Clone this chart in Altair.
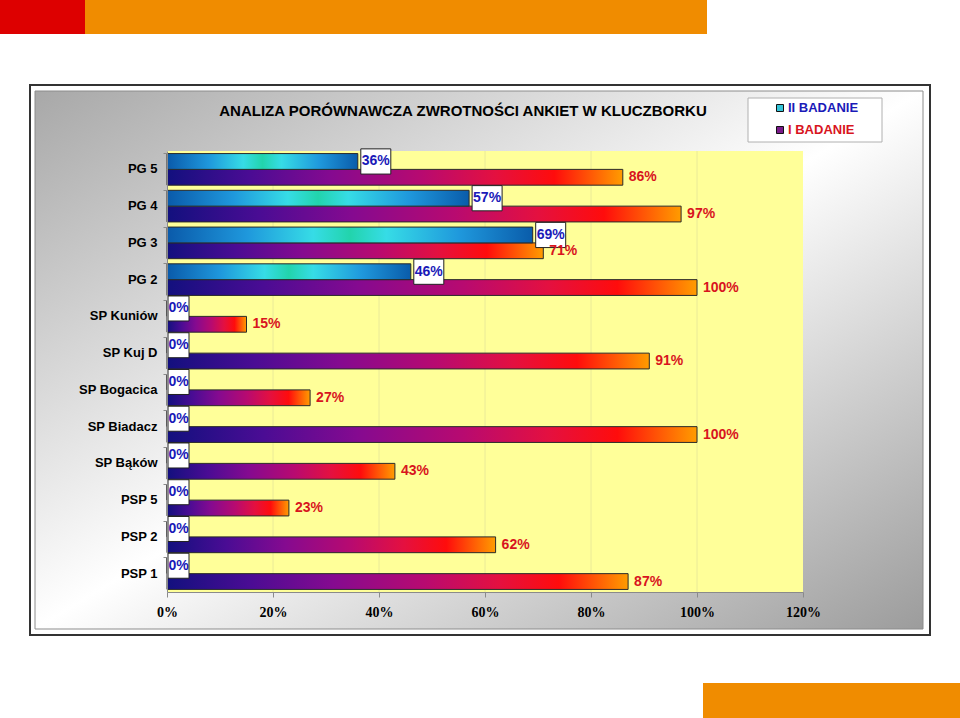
import altair as alt
import pandas as pd

# ---------------- data ----------------
categories = ["PG 5", "PG 4", "PG 3", "PG 2", "SP Kuniów", "SP Kuj D", "SP Bogacica",
              "SP Biadacz", "SP Bąków", "PSP 5", "PSP 2", "PSP 1"]
ii_values = [36, 57, 69, 46, 0, 0, 0, 0, 0, 0, 0, 0]       # II BADANIE
i_values = [86, 97, 71, 100, 15, 91, 27, 100, 43, 23, 62, 87]  # I BADANIE
series = ["II BADANIE", "I BADANIE"]
x_ticks = [0, 20, 40, 60, 80, 100, 120]
grid_ticks = [20, 40, 60, 80, 100]
title_text = "ANALIZA PORÓWNAWCZA ZWROTNOŚCI ANKIET W KLUCZBORKU"

rows = []
for c, a, b in zip(categories, ii_values, i_values):
    rows.append({"cat": c, "series": series[0], "value": a / 100, "label": f"{a}%"})
    rows.append({"cat": c, "series": series[1], "value": b / 100, "label": f"{b}%"})
df = pd.DataFrame(rows)
grid_df = pd.DataFrame({"value": [t / 100 for t in grid_ticks]})

# ---------------- layout ----------------
W, H = 636, 441
L, T = 167, 151
FONT = "Liberation Sans"
one = alt.Data(values=[{"d": 1}])

xscale = alt.Scale(domain=[0, 1.2], nice=False, zero=True)
yscale = alt.Scale(domain=categories, paddingInner=0.14, paddingOuter=0.07)
oscale = alt.Scale(domain=series, paddingInner=0, paddingOuter=0)

xaxis = alt.Axis(values=[t / 100 for t in x_ticks], format=".0%", title=None, grid=False,
                 labelFont="Liberation Serif", labelFontWeight="bold", labelFontSize=14,
                 labelColor="black", tickColor="#8a8a8a", tickSize=5, domainColor="#8a8a8a",
                 labelPadding=8, zindex=1, labelFlush=False)
yaxis = alt.Axis(title=None, grid=False, labelFont=FONT, labelFontWeight="bold", labelFontSize=13,
                 labelColor="black", tickColor="#8a8a8a", tickSize=4, domainColor="#8a8a8a",
                 bandPosition=0, labelPadding=6, zindex=1)

X = alt.X("value:Q", scale=xscale, axis=xaxis)
Y = alt.Y("cat:N", sort=categories, scale=yscale, axis=yaxis)
YO = alt.YOffset("series:N", sort=series, scale=oscale)


def rect(x, x2, y, y2, **kw):
    return alt.Chart(one).mark_rect(**kw).encode(
        x=alt.value(x - L), x2=alt.value(x2 - L), y=alt.value(y - T), y2=alt.value(y2 - T))


# ---------------- decorations ----------------
red_sq = rect(0, 85, 0, 34, fill="#dd0000")
orange_top = rect(85, 707, 0, 34, fill="#f08c00")
orange_bot = rect(703, 960, 683, 718, fill="#f08c00")
frame = rect(30, 930, 85, 635, fill="white", stroke="#333333", strokeWidth=2)
gray_grad = alt.Gradient(gradient="linear", x1=0, y1=0, x2=1, y2=1,
                         stops=[alt.GradientStop(color="#a8a8a8", offset=0),
                                alt.GradientStop(color="#ffffff", offset=0.5),
                                alt.GradientStop(color="#9c9c9c", offset=1)])
inner = rect(35, 923, 91, 629, fill=gray_grad, stroke="#8c8c8c", strokeWidth=1)
plot_bg = rect(167, 803, 151, 592, fill="#ffff99")

legend_box = rect(748, 882, 98, 142, fill="white", stroke="#b0b0b0", strokeWidth=1)
leg_sq1 = alt.Chart(one).mark_square(size=49, fill="#34c4d8", stroke="#101010", strokeWidth=1, opacity=1).encode(
    x=alt.value(780 - L), y=alt.value(108 - T))
leg_sq2 = alt.Chart(one).mark_square(size=49, fill="#7a1a8a", stroke="#101010", strokeWidth=1, opacity=1).encode(
    x=alt.value(780 - L), y=alt.value(130 - T))
leg_t1 = alt.Chart(one).mark_text(align="left", baseline="middle", font=FONT, fontSize=13, fontWeight="bold",
                                  color="#1a1ab8").encode(
    x=alt.value(788 - L), y=alt.value(108 - T), text=alt.value(series[0]))
leg_t2 = alt.Chart(one).mark_text(align="left", baseline="middle", font=FONT, fontSize=13, fontWeight="bold",
                                  color="#d8141e").encode(
    x=alt.value(788 - L), y=alt.value(130 - T), text=alt.value(series[1]))

title = alt.Chart(one).mark_text(align="center", baseline="middle", font=FONT, fontSize=15,
                                 fontWeight="bold", color="black").encode(
    x=alt.value(463 - L), y=alt.value(111 - T), text=alt.value(title_text))

grid = alt.Chart(grid_df).mark_rule(color="#eaea98", strokeWidth=1).encode(x=X)

# ---------------- bars ----------------
blue_grad = alt.Gradient(gradient="linear", x1=0, y1=0, x2=1, y2=0, stops=[
    alt.GradientStop(color="#0a5aaa", offset=0),
    alt.GradientStop(color="#1f98dc", offset=0.22),
    alt.GradientStop(color="#36dce6", offset=0.4),
    alt.GradientStop(color="#22d4ac", offset=0.5),
    alt.GradientStop(color="#36dce6", offset=0.6),
    alt.GradientStop(color="#1f98dc", offset=0.8),
    alt.GradientStop(color="#0a5caa", offset=1)])
red_grad = alt.Gradient(gradient="linear", x1=0, y1=0, x2=1, y2=0, stops=[
    alt.GradientStop(color="#12107e", offset=0),
    alt.GradientStop(color="#4a0c94", offset=0.18),
    alt.GradientStop(color="#850a90", offset=0.36),
    alt.GradientStop(color="#b80a70", offset=0.56),
    alt.GradientStop(color="#e41040", offset=0.72),
    alt.GradientStop(color="#ff0c0c", offset=0.85),
    alt.GradientStop(color="#ff9c00", offset=1)])

base = alt.Chart(df)
red_bars = base.transform_filter(alt.datum.series == series[1]).mark_bar(
    fill=red_grad, stroke="#2a2a2a", strokeWidth=1).encode(x=X, y=Y, yOffset=YO)
blue_bars = base.transform_filter(alt.datum.series == series[0]).mark_bar(
    fill=blue_grad, stroke="#2a2a2a", strokeWidth=1).encode(x=X, y=Y, yOffset=YO)

wide_shape = "M-1,-0.84L1,-0.84L1,0.84L-1,0.84Z"
narrow_shape = "M-0.84,-1L0.84,-1L0.84,1L-0.84,1Z"

blue_nz = base.transform_filter((alt.datum.series == series[0]) & (alt.datum.value > 0))
blue_z = base.transform_filter((alt.datum.series == series[0]) & (alt.datum.value == 0))

box_nz = blue_nz.mark_point(shape=wide_shape, size=900, filled=True, fill="white", stroke="#202020",
                            strokeWidth=1, opacity=1, xOffset=18, yOffset=1).encode(x=X, y=Y, yOffset=YO)
box_z = blue_z.mark_point(shape=narrow_shape, size=625, filled=True, fill="white", stroke="#202020",
                          strokeWidth=1, opacity=1, xOffset=11.5, yOffset=2).encode(x=X, y=Y, yOffset=YO)
txt_nz = blue_nz.mark_text(align="center", baseline="middle", font=FONT, fontSize=14, fontWeight="bold",
                           color="#1a1ab8", xOffset=18, yOffset=1).encode(x=X, y=Y, yOffset=YO, text="label:N")
txt_z = blue_z.mark_text(align="center", baseline="middle", font=FONT, fontSize=14, fontWeight="bold",
                         color="#1a1ab8", xOffset=11.5, yOffset=1).encode(x=X, y=Y, yOffset=YO, text="label:N")
red_txt = base.transform_filter(alt.datum.series == series[1]).mark_text(
    align="left", baseline="middle", font=FONT, fontSize=14, fontWeight="bold", color="#d8141e",
    xOffset=6, yOffset=1).encode(x=X, y=Y, yOffset=YO, text="label:N")

chart = alt.layer(
    red_sq, orange_top, orange_bot, frame, inner, legend_box, leg_sq1, leg_sq2, leg_t1, leg_t2,
    title, plot_bg, grid, red_bars, blue_bars, box_nz, box_z, txt_nz, txt_z, red_txt
).properties(
    width=W, height=H,
    autosize=alt.AutoSizeParams(type="none"),
    padding={"left": L, "top": T, "right": 960 - L - W, "bottom": 718 - T - H},
    background="white",
).configure_view(stroke=None)

chart.save("out.html", embed_options={"renderer": "svg", "actions": False})
